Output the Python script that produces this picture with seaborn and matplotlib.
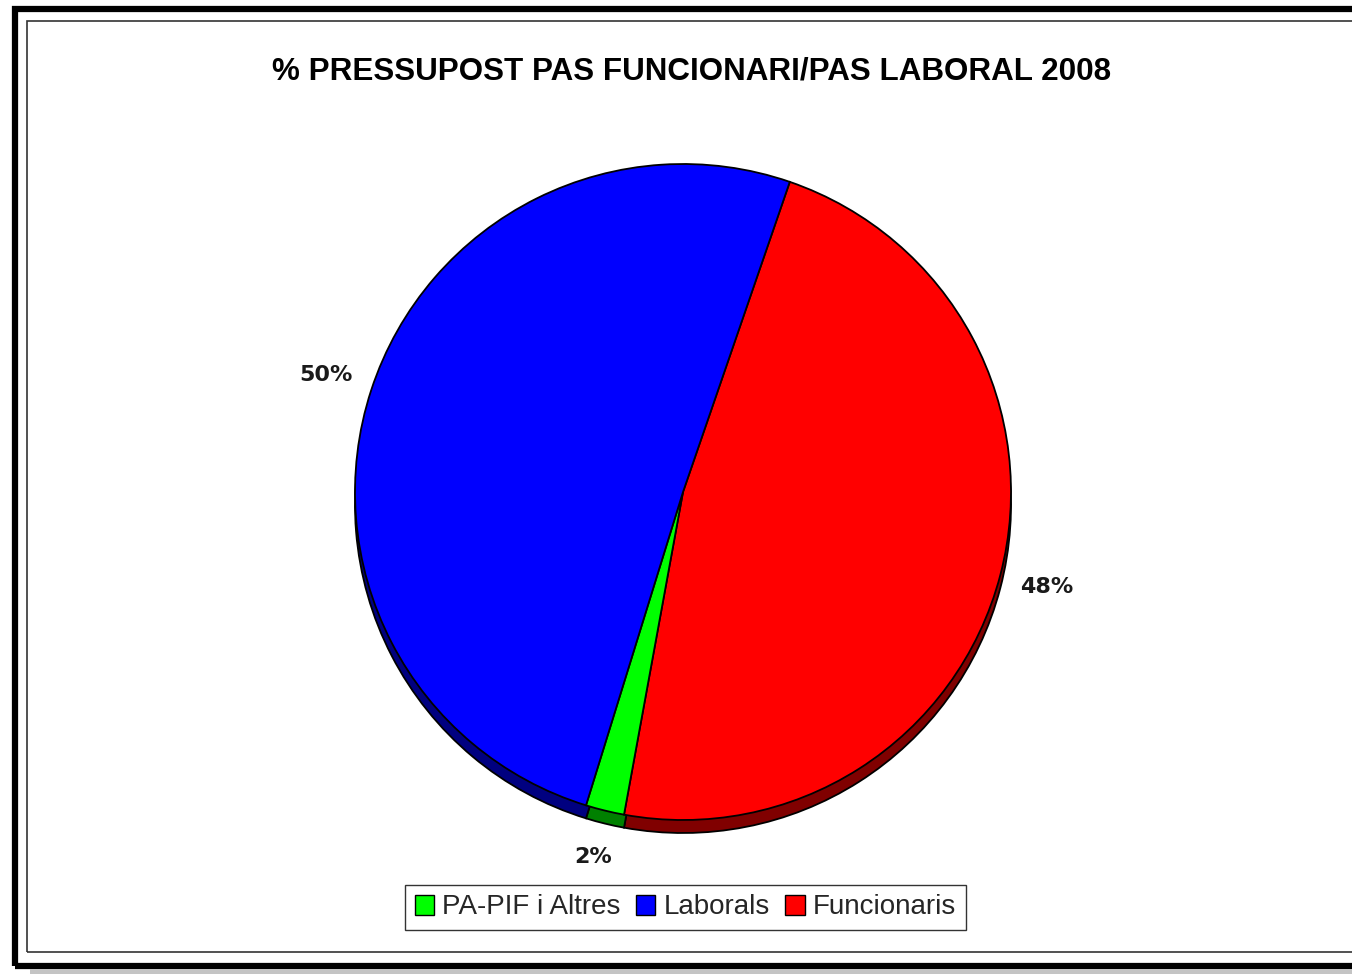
import matplotlib
matplotlib.use("Agg")
import matplotlib.pyplot as plt
import matplotlib.patches as mpatches
import seaborn as sns

# ---------------------- DATA ----------------------
# slices in drawing order (clockwise from the top-right)
labels = ["Funcionaris", "PA-PIF i Altres", "Laborals"]
values = [47.6, 1.9, 50.5]
colors = ["#FF0000", "#00FF00", "#0000FF"]
dark_colors = ["#800000", "#008000", "#000080"]
legend_order = ["PA-PIF i Altres", "Laborals", "Funcionaris"]
title = "% PRESSUPOST PAS FUNCIONARI/PAS LABORAL 2008"

# ---------------------- FIGURE ----------------------
sns.set_theme(style="white")
plt.rcParams['font.family'] = ['Liberation Sans', 'DejaVu Sans']

W, H = 1352, 974
fig = plt.figure(figsize=(W / 100, H / 100), dpi=100)
ax = fig.add_axes([0, 0, 1, 1])


def Y(y):
    # pixel row (from top) -> data y
    return H - y


cx, cy, r = 683, 492, 328

# depth of the pie (darker copy shifted down)
ax.pie(values, colors=dark_colors, startangle=71, counterclock=False,
       center=(cx, Y(cy + 13)), radius=r, frame=True,
       wedgeprops=dict(edgecolor="black", linewidth=1.3))

# top face
wedges, texts, autotexts = ax.pie(
    values, colors=colors, startangle=71, counterclock=False,
    center=(cx, Y(cy)), radius=r, frame=True,
    autopct="%1.0f%%", pctdistance=1.145,
    wedgeprops=dict(edgecolor="black", linewidth=1.3),
    textprops=dict(color="#1a1a1a"))
for t in autotexts:
    t.set_fontfamily("DejaVu Sans")
    t.set_fontweight("bold")
    t.set_fontsize(16)

ax.set_xlim(0, W)
ax.set_ylim(0, H)
ax.set_aspect("equal")
ax.axis("off")

# ---------------- FRAMES ----------------
ax.add_patch(mpatches.Rectangle((15, Y(965.5)), W + 20, 965.5 - 9,
                                fill=False, edgecolor="black", linewidth=4.5,
                                clip_on=False))
ax.add_patch(mpatches.Rectangle((27, Y(952)), W + 20, 952 - 21,
                                fill=False, edgecolor="#333333", linewidth=1.2))
ax.add_patch(mpatches.Rectangle((30, 0), W, Y(969),
                                facecolor="#c4c4c4", edgecolor="none"))

# ---------------- TITLE ----------------
ax.text(692, Y(71), title, ha="center", va="center",
        fontsize=22.6, fontweight="bold", color="black")

# ---------------- LEGEND ----------------
col = dict(zip(labels, colors))
handles = [mpatches.Patch(facecolor=col[l], edgecolor="black", linewidth=1.0,
                          label=l) for l in legend_order]
leg = fig.legend(handles=handles, loc="center", ncol=3,
                 bbox_to_anchor=(685.5 / W, 1 - 907.5 / H),
                 fontsize=20, frameon=True, fancybox=False,
                 handlelength=0.7, handleheight=0.7, handletextpad=0.3,
                 columnspacing=0.55, borderpad=0.35, borderaxespad=0)
leg.get_frame().set_edgecolor("black")
leg.get_frame().set_linewidth(1.0)

fig.savefig("out.png", dpi=100, facecolor="white")
